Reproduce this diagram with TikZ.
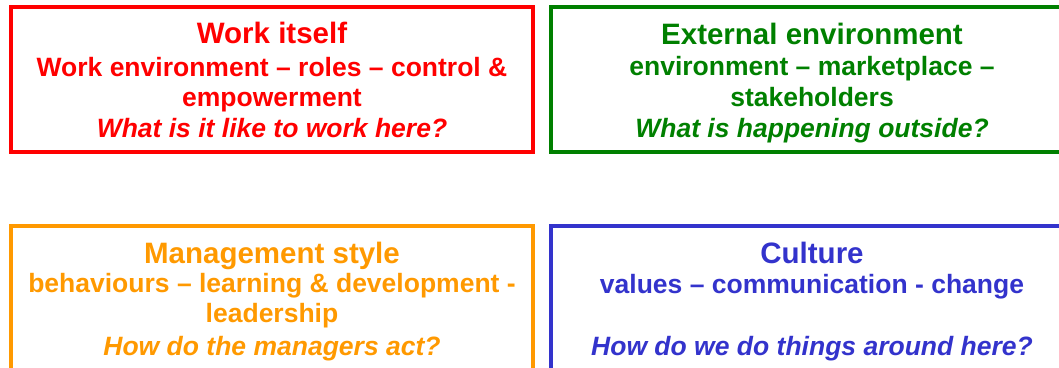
\documentclass[tikz,border=0pt]{standalone}
\usepackage{fontspec}
\setmainfont{Liberation Sans}
\definecolor{workred}{HTML}{FF0000}
\definecolor{extgreen}{HTML}{008000}
\definecolor{mgmtorange}{HTML}{FF9900}
\definecolor{cultblue}{HTML}{3333CC}
\begin{document}
\begin{tikzpicture}[x=1pt,y=-1pt,
  panel/.style={draw, line width=4pt, rectangle, inner sep=0pt,
    minimum width=522pt, minimum height=145pt},
  headline/.style={anchor=base, inner sep=0pt,
    font=\fontsize{29.5}{30}\selectfont\bfseries},
  topics/.style={anchor=base, inner sep=0pt,
    font=\fontsize{26.5}{30}\selectfont\bfseries},
  question/.style={anchor=base, inner sep=0pt,
    font=\fontsize{26.5}{30}\selectfont\bfseries\itshape}]
\useasboundingbox (0,0) rectangle (1059,367);

% four quadrant panels
\node[panel, workred]    (work) at (272,79.5)  {};
\node[panel, extgreen]   (ext)  at (812,79.5)  {};
\node[panel, mgmtorange] (mgmt) at (272,298.5) {};
\node[panel, cultblue]   (cult) at (812,298.5) {};

% Work itself
\node[headline, workred] (workT)  at (272,43.5) {Work itself};
\node[topics,   workred] (workA)  at (272,76)   {Work environment – roles – control \&};
\node[topics,   workred] (workB)  at (272,106.5){empowerment};
\node[question, workred] (workQ)  at (272,137)  {What is it like to work here?};

% External environment
\node[headline, extgreen] (extT) at (812,44.5)  {External environment};
\node[topics,   extgreen] (extA) at (812,75.5)  {environment – marketplace –};
\node[topics,   extgreen] (extB) at (812,106.5) {stakeholders};
\node[question, extgreen] (extQ) at (812,137)   {What is happening outside?};

% Management style
\node[headline, mgmtorange] (mgmtT) at (272,263)   {Management style};
\node[topics,   mgmtorange] (mgmtA) at (272,292)   {behaviours – learning \& development -};
\node[topics,   mgmtorange] (mgmtB) at (272,322.5) {leadership};
\node[question, mgmtorange] (mgmtQ) at (272,355)   {How do the managers act?};

% Culture
\node[headline, cultblue] (cultT) at (812,263.5) {Culture};
\node[topics,   cultblue] (cultA) at (812,293)   {values – communication - change};
\node[question, cultblue] (cultQ) at (812,355)   {How do we do things around here?};
\end{tikzpicture}
\end{document}
